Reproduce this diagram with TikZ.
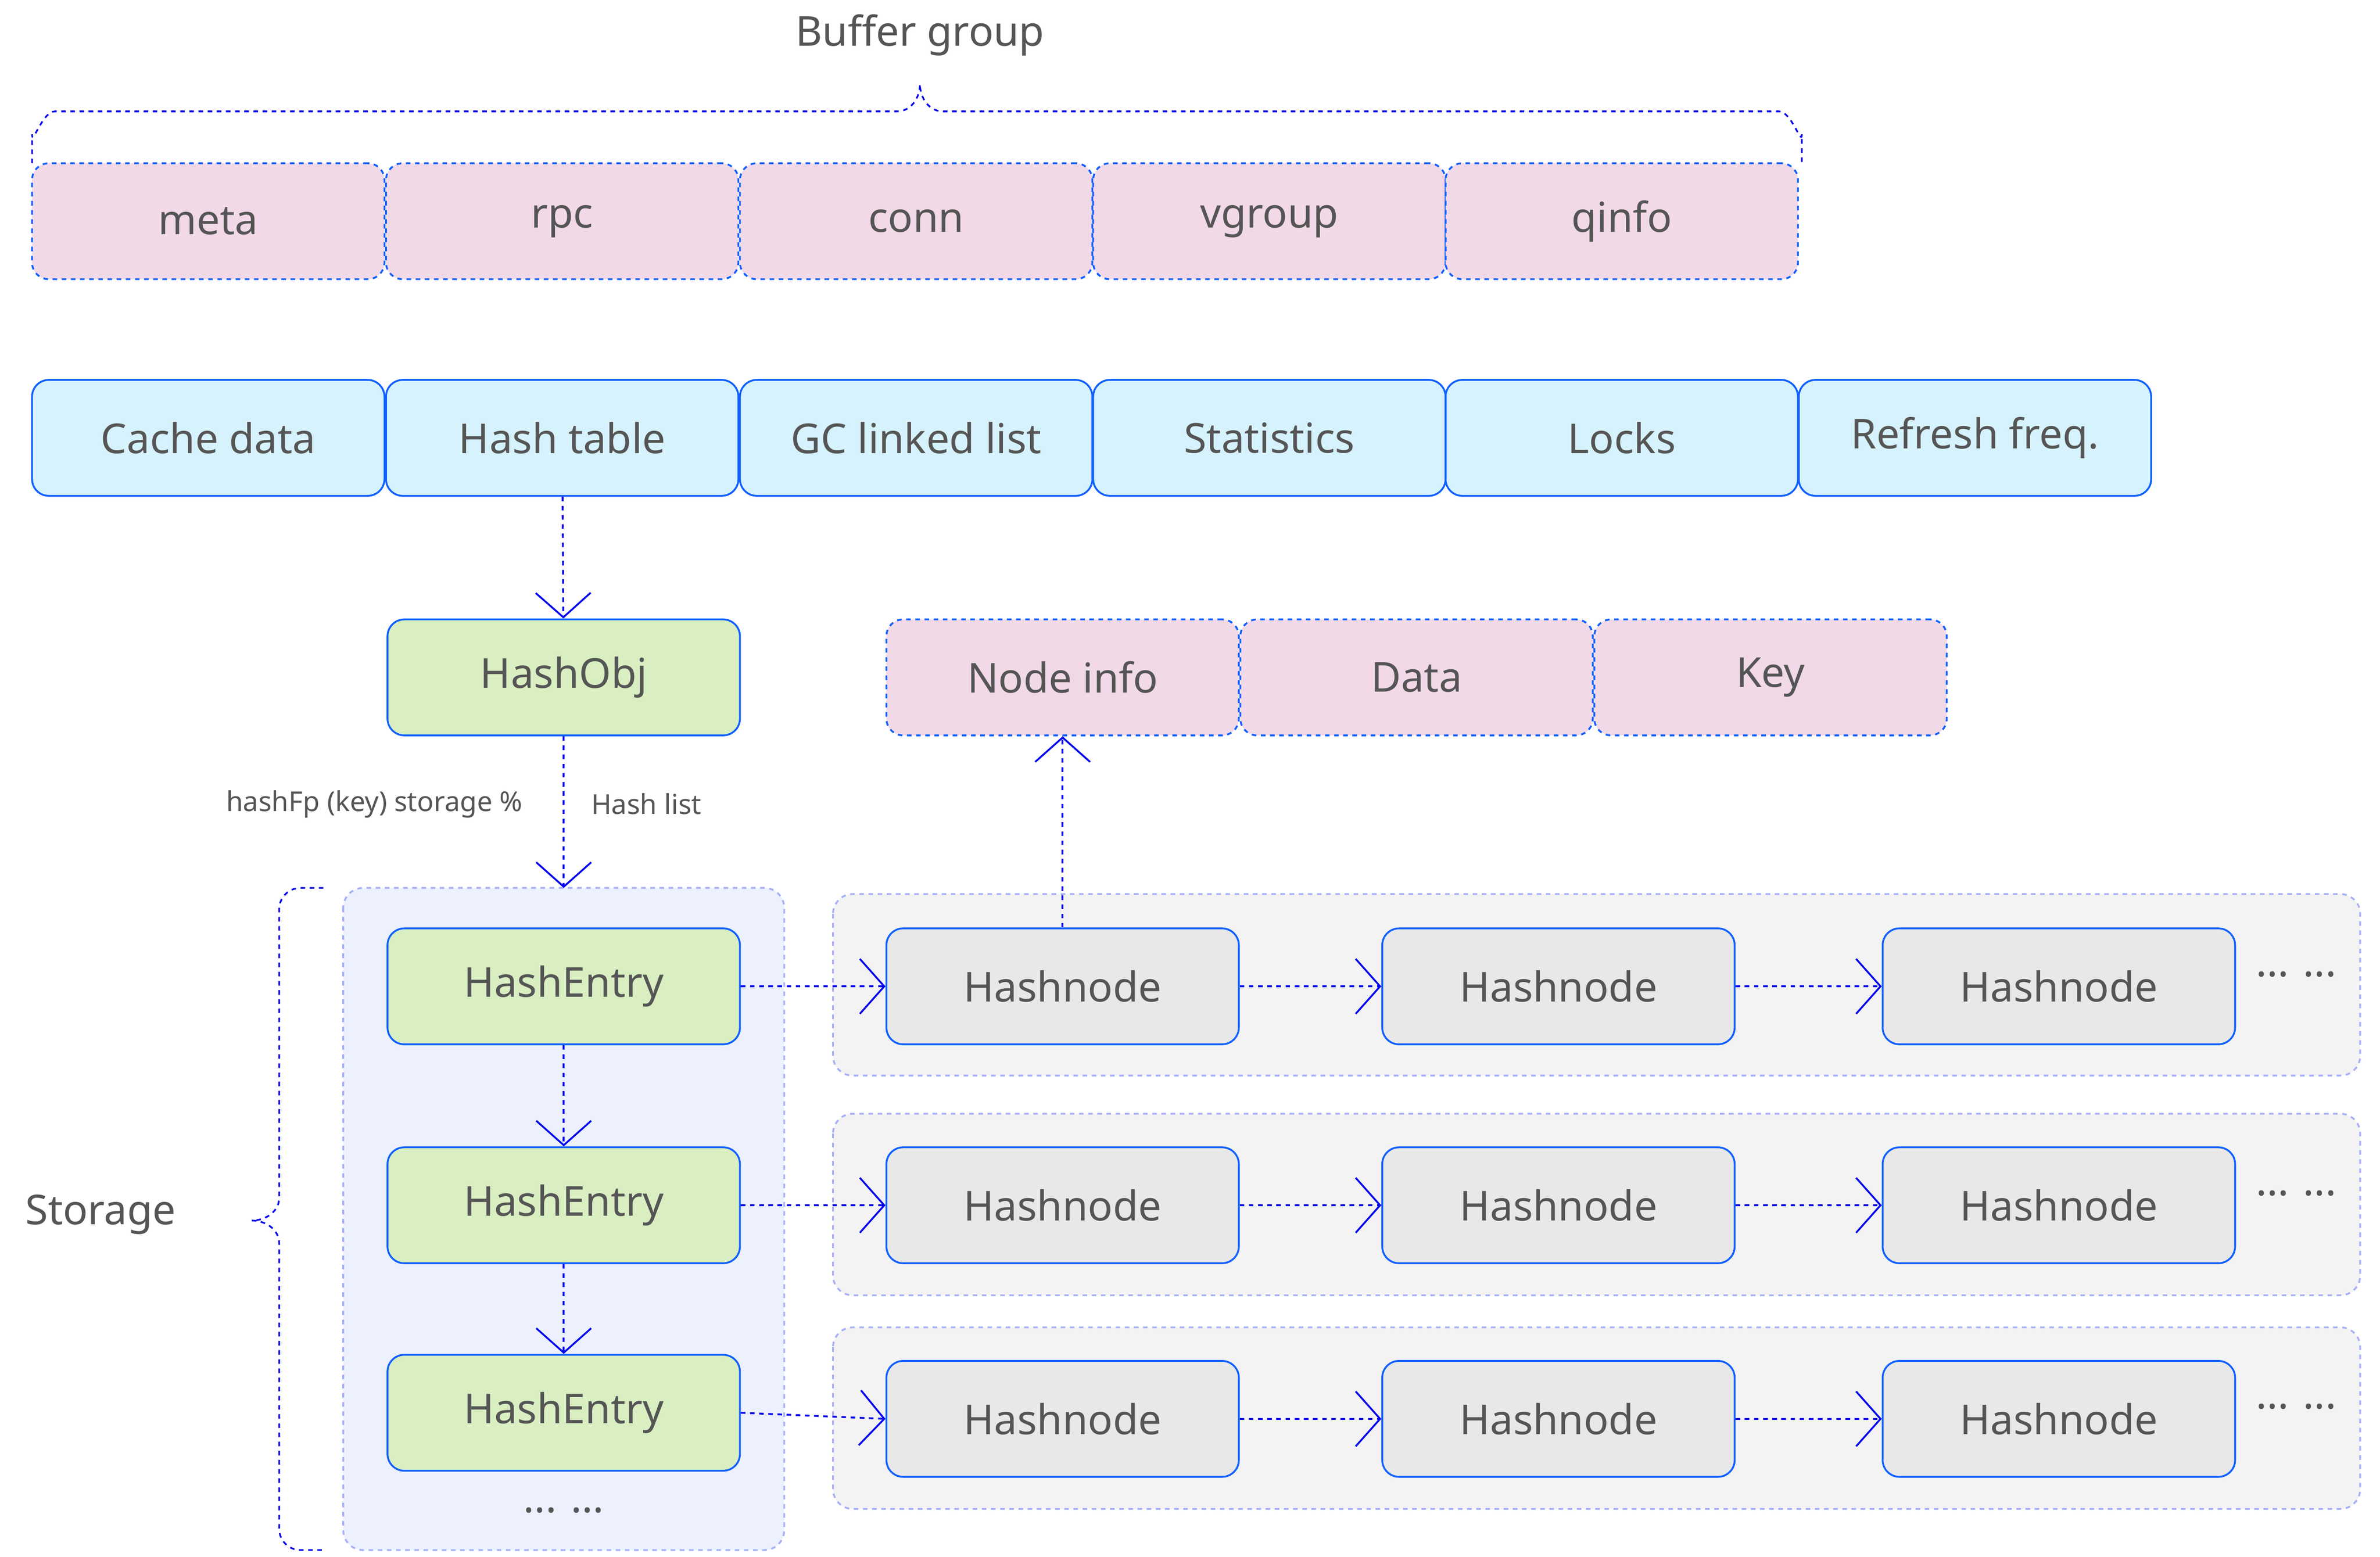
\documentclass[tikz,border=0pt]{standalone}
\usepackage{fontspec}
\setmainfont{Noto Sans}
\usetikzlibrary{arrows.meta}
\definecolor{pinkf}{HTML}{F2D9E7}
\definecolor{bluef}{HTML}{D6F2FC}
\definecolor{greenf}{HTML}{D9EFC2}
\definecolor{grayf}{HTML}{E8E8E8}
\definecolor{bord}{HTML}{1060FF}
\definecolor{conn}{HTML}{0000F0}
\definecolor{panelb}{HTML}{ECF1FD}
\definecolor{panelg}{HTML}{F3F3F3}
\definecolor{lav}{HTML}{A8B0F8}
\definecolor{txt}{HTML}{555555}
\tikzset{
 box/.style={draw=bord,line width=1.2pt,rounded corners=11pt,minimum width=231pt,minimum height=76pt,text=txt,font=\fontsize{27}{30}\selectfont,inner sep=0pt},
 pinkbox/.style={box,fill=pinkf,dashed},
 bluebox/.style={box,fill=bluef},
 greenbox/.style={box,fill=greenf},
 graybox/.style={box,fill=grayf},
 panel/.style={draw=lav,dashed,line width=1.2pt,rounded corners=13pt},
 arr/.style={draw=conn,dashed,line width=1.2pt,-{Straight Barb[length=16pt,width=36pt,line width=1.2pt]}},
 lbl/.style={text=txt,font=\fontsize{18}{20}\selectfont},
}
\begin{document}
\begin{tikzpicture}[x=1pt,y=-1pt]
\useasboundingbox (0,0) rectangle (1560,1020.5);
% Buffer group brace
\draw[conn,dashed,line width=1.1pt] (21,107) -- (21,88) to[out=-90,in=180] (36,73) -- (588,73) to[out=0,in=-90] (603,55) to[out=-90,in=180] (618,73) -- (1166,73) to[out=0,in=-90] (1181,88) -- (1181,107);
\node[text=txt,font=\fontsize{27}{30}\selectfont] (bg) at (603,23) {Buffer group};
\foreach \n/\x/\t in {m/136.5/meta,r/368.5/rpc,c/600.5/conn,v/832/vgroup,q/1063/qinfo}
  \node[pinkbox] (\n) at (\x,145) {\t};
\foreach \n/\x/\t in {cd/136.5/Cache data,ht/368.5/Hash table,gc/600.5/GC linked list,st/832/Statistics,lk/1063/Locks,rf/1294.5/Refresh freq.}
  \node[bluebox] (\n) at (\x,287) {\t};
\node[greenbox] (ho) at (369.5,444) {HashObj};
\node[pinkbox] (ni) at (696.5,444) {Node info};
\node[pinkbox] (da) at (928.5,444) {Data};
\node[pinkbox] (ke) at (1160.5,444) {Key};
% panels
\draw[panel,fill=panelb] (225,582) rectangle (514,1016);
\coordinate (stop) at (369.5,582);
\draw[panel,fill=panelg] (546,586) rectangle (1547,705);
\draw[panel,fill=panelg] (546,730) rectangle (1547,849);
\draw[panel,fill=panelg] (546,870) rectangle (1547,989);
% entries
\node[greenbox] (e1) at (369.5,646.5) {HashEntry};
\node[greenbox] (e2) at (369.5,790) {HashEntry};
\node[greenbox] (e3) at (369.5,926) {HashEntry};
\node[text=txt,font=\fontsize{27}{30}\selectfont] (ed) at (369.5,990) {\textbf{...} \textbf{...}};
\foreach \r/\y in {1/646.5,2/790,3/930}{
  \node[graybox] (a\r) at (696.5,\y) {Hashnode};
  \node[graybox] (b\r) at (1021.5,\y) {Hashnode};
  \node[graybox] (c\r) at (1349.5,\y) {Hashnode};
  \node[text=txt,font=\fontsize{27}{30}\selectfont] (d\r) at (1505,\y-8) {\textbf{...} \textbf{...}};
  \draw[arr] (a\r) -- (b\r);
  \draw[arr] (b\r) -- (c\r);
}
\draw[arr] (e1) -- (a1);
\draw[arr] (e2) -- (a2);
\draw[arr] (e3.east) -- (a3.west);
\draw[arr] (ht) -- (ho);
\draw[arr] (ho) -- (stop);
\draw[arr] (e1) -- (e2);
\draw[arr] (e2) -- (e3);
\draw[arr] (a1) -- (ni);
\node[lbl,anchor=east] (l1) at (346,527) {hashFp (key) storage \%};
\node[lbl,anchor=west] (l2) at (384,527) {Hash list};
% storage brace
\draw[conn,dashed,line width=1.1pt] (212,582) -- (197,582) to[out=180,in=90] (183,596) -- (183,785) to[out=-90,in=0] (165,800) to[out=0,in=90] (183,815) -- (183,1002) to[out=-90,in=180] (197,1016) -- (212,1016);
\node[text=txt,font=\fontsize{27}{30}\selectfont] (sl) at (66,796) {Storage};
\end{tikzpicture}
\end{document}
